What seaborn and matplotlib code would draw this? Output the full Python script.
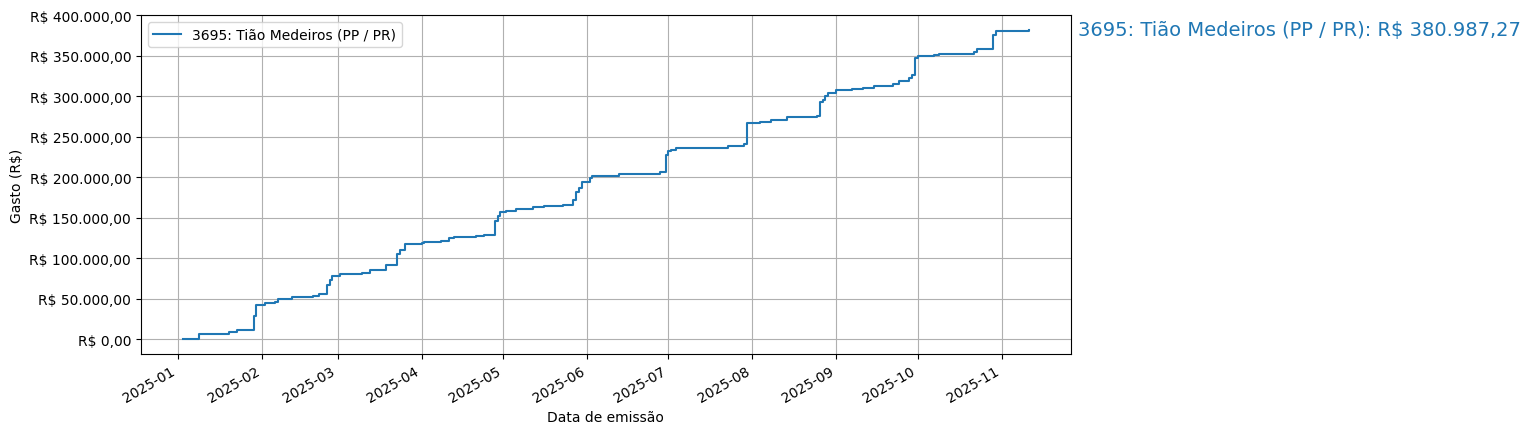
import matplotlib
matplotlib.use("Agg")
import matplotlib.pyplot as plt
import matplotlib.dates as mdates
from matplotlib.ticker import FuncFormatter
import seaborn as sns
import pandas as pd

label = "3695: Tião Medeiros (PP / PR)"
dates = [
    "2025-01-03", "2025-01-09", "2025-01-20", "2025-01-23", "2025-01-29", "2025-01-30",
    "2025-02-02", "2025-02-06", "2025-02-07", "2025-02-12", "2025-02-20", "2025-02-22",
    "2025-02-25", "2025-02-26", "2025-02-27", "2025-03-02", "2025-03-10", "2025-03-13",
    "2025-03-19", "2025-03-23", "2025-03-24", "2025-03-26", "2025-04-01", "2025-04-02",
    "2025-04-08", "2025-04-11", "2025-04-13", "2025-04-21", "2025-04-24", "2025-04-28",
    "2025-04-29", "2025-04-30", "2025-05-02", "2025-05-06", "2025-05-12", "2025-05-16",
    "2025-05-23", "2025-05-27", "2025-05-28", "2025-05-29", "2025-05-30", "2025-06-02",
    "2025-06-03", "2025-06-13", "2025-06-28", "2025-06-30", "2025-07-01", "2025-07-02",
    "2025-07-04", "2025-07-13", "2025-07-23", "2025-07-29", "2025-07-30", "2025-08-04",
    "2025-08-08", "2025-08-14", "2025-08-20", "2025-08-25", "2025-08-26", "2025-08-27",
    "2025-08-28", "2025-08-29", "2025-09-01", "2025-09-07", "2025-09-11", "2025-09-15",
    "2025-09-22", "2025-09-24", "2025-09-28", "2025-09-29", "2025-09-30", "2025-10-01",
    "2025-10-07", "2025-10-09", "2025-10-22", "2025-10-23", "2025-10-29", "2025-10-30",
    "2025-11-07", "2025-11-11",
]
cumulative = [
    650, 6500, 8200, 10600, 27900, 42300,
    44800, 46400, 48900, 52200, 53500, 55100,
    66700, 73200, 78200, 79800, 81900, 84700,
    90900, 105300, 109400, 117300, 118500, 119300,
    120500, 124700, 125900, 126700, 127900, 145200,
    151400, 156300, 157600, 160500, 163000, 164600,
    165800, 172000, 182200, 186400, 194200, 198800,
    201600, 204100, 205700, 227500, 231600, 233700,
    235300, 236500, 237800, 241100, 267000, 268600,
    270400, 273600, 274800, 276000, 292100, 295400,
    299500, 304400, 307800, 309000, 310600, 312700,
    314800, 318900, 322300, 326400, 346900, 348900,
    350600, 351800, 354300, 357600, 375800, 380000,
    380600, 380987.27,
]

df = pd.DataFrame({"data": pd.to_datetime(dates), "gasto": cumulative})


def brl(v, pos=None):
    s = f"{v:,.2f}"
    s = s.replace(",", "X").replace(".", ",").replace("X", ".")
    return f"R$ {s}"


fig, ax = plt.subplots(figsize=(15.32, 4.35), dpi=100)
sns.lineplot(data=df, x="data", y="gasto", ax=ax, label=label,
             drawstyle="steps-post", color="#1f77b4", linewidth=1.5)
ax.grid(True, color="#b0b0b0", linewidth=0.8)
ax.yaxis.set_major_formatter(FuncFormatter(brl))
ax.xaxis.set_major_locator(mdates.MonthLocator())
ax.xaxis.set_major_formatter(mdates.DateFormatter("%Y-%m"))
ax.set_xlabel("Data de emissão")
ax.set_ylabel("Gasto (R$)")
ax.legend(loc="upper left")
fig.autofmt_xdate()
ax.text(1.008, 0.958, f"{label}: {brl(cumulative[-1])}", transform=ax.transAxes,
        fontsize=14, color="#1f77b4", va="center", ha="left")
fig.subplots_adjust(left=0.092, right=0.699, top=0.963, bottom=0.184)
fig.savefig("out.png", dpi=100)
